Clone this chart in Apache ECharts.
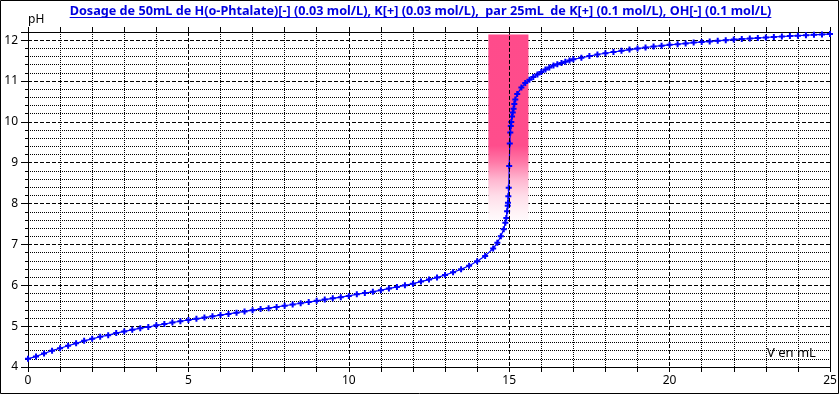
<!DOCTYPE html>
<html><head><meta charset="utf-8">
<script src="https://cdn.jsdelivr.net/npm/echarts@6/dist/echarts.min.js"></script>
<style>html,body{margin:0;padding:0;background:#fff}#c{width:840px;height:395px}</style>
</head><body><div id="c"></div>
<script>
// ---- data ----
const volumesBefore = [0,0.25,0.5,0.75,1,1.25,1.5,1.75,2,2.25,2.5,2.75,3,3.25,3.5,3.75,4,4.25,4.5,4.75,5,5.25,5.5,5.75,6,6.25,6.5,6.75,7,7.25,7.5,7.75,8,8.25,8.5,8.75,9,9.25,9.5,9.75,10,10.25,10.5,10.75,11,11.25,11.5,11.75,12,12.25,12.5,12.75,13,13.25,13.5,13.75,14,14.25,14.5];
const phBefore = [4.20,4.26,4.33,4.40,4.46,4.52,4.58,4.64,4.69,4.74,4.78,4.83,4.87,4.91,4.95,4.98,5.02,5.05,5.09,5.12,5.15,5.18,5.21,5.24,5.27,5.30,5.33,5.36,5.39,5.42,5.44,5.47,5.50,5.53,5.56,5.59,5.62,5.65,5.68,5.71,5.74,5.78,5.81,5.84,5.88,5.92,5.96,6.00,6.04,6.09,6.14,6.19,6.25,6.32,6.39,6.48,6.59,6.72,6.90];
const volumesNearEq = [14.63,14.74,14.83,14.88,14.91,14.935,14.955,14.962,14.973,14.985,15];
const phNearEq = [7.04,7.20,7.37,7.53,7.65,7.81,7.95,8.02,8.18,8.39,8.92];
const volumesAfter = [15.018,15.035,15.05,15.065,15.088,15.11,15.136,15.16,15.19,15.25,15.38,15.5,15.63,15.75,15.88,16,16.13,16.25,16.38,16.5,16.63,16.75,16.88,17];
const phAfter = [9.47,9.74,9.90,10.00,10.13,10.23,10.32,10.44,10.55,10.68,10.84,10.95,11.03,11.10,11.16,11.22,11.28,11.33,11.38,11.41,11.44,11.47,11.50,11.53];
const volumesTail = [17.25,17.5,17.75,18,18.25,18.5,18.75,19,19.25,19.5,19.75,20,20.25,20.5,20.75,21,21.25,21.5,21.75,22,22.25,22.5,22.75,23,23.25,23.5,23.75,24,24.25,24.5,24.75,25];
const phTail = [11.57,11.61,11.65,11.68,11.71,11.74,11.77,11.795,11.82,11.845,11.865,11.885,11.90,11.92,11.94,11.955,11.97,11.985,12.00,12.015,12.03,12.04,12.055,12.065,12.08,12.09,12.10,12.11,12.12,12.13,12.14,12.15];
const zoneVolume = [14.35, 15.6];
const zonePH = [7.6, 12.14];
const equivalenceVolume = 15;
const titleText = 'Dosage de 50mL de H(o-Phtalate)[-] (0.03 mol/L), K[+] (0.03 mol/L),  par 25mL  de K[+] (0.1 mol/L), OH[-] (0.1 mol/L)';
const yAxisName = 'pH';
const xAxisName = 'V en mL';

// ---- build ----
const volumes = volumesBefore.concat(volumesNearEq, volumesAfter, volumesTail);
const phs = phBefore.concat(phNearEq, phAfter, phTail);
const points = volumes.map((v, i) => [v, phs[i]]);

const FONT = '"Noto Sans", "DejaVu Sans", sans-serif';
const titleFontFamily = '"Noto Sans", sans-serif';
const targetTitleWidth = 702;
const ctx = document.createElement('canvas').getContext('2d');
ctx.font = 'bold 12px ' + titleFontFamily;
let w12 = ctx.measureText(titleText).width;
let titleSize = Math.min(14, Math.max(10, 12 * targetTitleWidth / w12));
ctx.font = 'bold ' + titleSize + 'px ' + titleFontFamily;
const titleW = ctx.measureText(titleText).width;
const titleCx = 420.5;

const chart = echarts.init(document.getElementById('c'), null, {renderer: 'canvas'});
const black = '#000';
chart.setOption({
  animation: false,
  backgroundColor: '#fff',
  grid: {left: 28, right: 10, top: 32, bottom: 28, containLabel: false, outerBoundsMode: 'none'},
  xAxis: [
    {type: 'value', min: 0, max: 25, interval: 5, position: 'bottom',
     axisLine: {show: true, onZero: false, lineStyle: {color: black, width: 1}},
     axisTick: {show: true, length: 5, lineStyle: {color: black}},
     minorTick: {show: true, splitNumber: 5, length: 5, lineStyle: {color: black}},
     axisLabel: {color: black, fontSize: 12, fontFamily: FONT, margin: 8},
     splitLine: {show: true, lineStyle: {color: black, type: [4, 2], width: 1}},
     minorSplitLine: {show: true, lineStyle: {color: black, type: [1, 1], width: 1}}},
    {type: 'value', min: 0, max: 25, interval: 1, position: 'top',
     axisLine: {show: true, onZero: false, lineStyle: {color: black, width: 1}},
     axisTick: {show: true, length: 5, lineStyle: {color: black}},
     axisLabel: {show: false}, splitLine: {show: false}}
  ],
  yAxis: [
    {type: 'value', min: 4, max: 12.2, interval: 1, position: 'left',
     axisLine: {show: true, onZero: false, lineStyle: {color: black, width: 1}},
     axisTick: {show: true, length: 7, lineStyle: {color: black}},
     axisLabel: {color: black, fontSize: 12, fontFamily: FONT, margin: 10,
       formatter: v => (Math.abs(v - Math.round(v)) < 1e-6 ? String(Math.round(v)) : '')},
     splitLine: {show: true, lineStyle: {color: black, type: [4, 2], width: 1}}},
    {type: 'value', min: 4, max: 12.2, interval: 0.2, position: 'left',
     axisLine: {show: false},
     axisTick: {show: true, length: 3, lineStyle: {color: black}},
     axisLabel: {show: false},
     splitLine: {show: true, lineStyle: {color: ['rgba(0,0,0,0)', black, black, black, black], type: [1, 1], width: 1}}},
    {type: 'value', min: 4, max: 12.2, position: 'right',
     axisLine: {show: true, onZero: false, lineStyle: {color: black, width: 1}},
     axisTick: {show: false}, axisLabel: {show: false}, splitLine: {show: false}}
  ],
  series: [{
    type: 'line', xAxisIndex: 0, yAxisIndex: 0,
    data: points,
    showSymbol: true, showAllSymbol: true,
    symbol: 'path://M2,0L4,0L4,2L6,2L6,4L4,4L4,6L2,6L2,4L0,4L0,2L2,2Z',
    symbolSize: 6,
    itemStyle: {color: '#0000ff'},
    lineStyle: {color: '#0000ff', width: 1.2},
    markArea: {
      silent: true,
      itemStyle: {
        color: {type: 'linear', x: 0, y: 0, x2: 0, y2: 1, colorStops: [
          {offset: 0, color: '#ff4b8b'},
          {offset: 0.60, color: '#ff4d8c'},
          {offset: 0.69, color: '#ff7aa8'},
          {offset: 0.78, color: '#ffb5cf'},
          {offset: 0.87, color: '#ffdde9'},
          {offset: 0.955, color: '#fff2f6'},
          {offset: 1, color: '#fffafc'}
        ]}
      },
      data: [[{coord: [zoneVolume[0], zonePH[1]]}, {coord: [zoneVolume[1], zonePH[0]]}]]
    },
    markLine: {
      silent: true, symbol: ['none', 'none'], label: {show: false},
      lineStyle: {color: black, type: [4, 2], width: 1},
      data: [[{coord: [equivalenceVolume, zonePH[0]]}, {coord: [equivalenceVolume, zonePH[1]]}]]
    }
  }],
  graphic: [
    {type: 'rect', shape: {x: 0.5, y: 0.5, width: 838, height: 393}, style: {fill: 'none', stroke: black, lineWidth: 1}, z: 100},
    {type: 'text', x: titleCx, y: 11.5, style: {text: titleText, fontSize: titleSize, fontWeight: 'bold', fontFamily: titleFontFamily, fill: '#0000e0', align: 'center', verticalAlign: 'middle', textAlign: 'center', textVerticalAlign: 'middle'}},
    {type: 'line', shape: {x1: titleCx - titleW / 2, y1: 17.5, x2: titleCx + titleW / 2, y2: 17.5}, style: {stroke: '#0000e0', lineWidth: 1}},
    {type: 'text', x: 28, y: 20, style: {text: yAxisName, fontSize: 12, fontFamily: FONT, fill: black, align: 'left', verticalAlign: 'middle', textAlign: 'left', textVerticalAlign: 'middle'}},
    {type: 'text', x: 767, y: 353.5, style: {text: xAxisName, fontSize: 13, fontFamily: FONT, fill: black, align: 'left', verticalAlign: 'middle', textAlign: 'left', textVerticalAlign: 'middle'}}
  ]
});
</script>
</body></html>
